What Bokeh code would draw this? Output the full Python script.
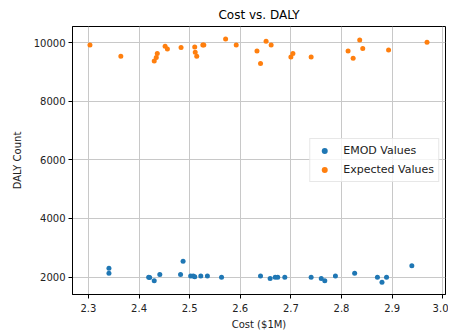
from bokeh.plotting import figure
from bokeh.models import Range1d, FixedTicker, Legend, LegendItem
from bokeh.embed import file_html
from bokeh.resources import INLINE

# Data
emod_cost = [2.3405, 2.3405, 2.419, 2.421, 2.430, 2.441, 2.482, 2.487, 2.502, 2.507,
             2.510, 2.522, 2.535, 2.563, 2.640, 2.659, 2.669, 2.674, 2.688, 2.740,
             2.760, 2.767, 2.788, 2.826, 2.871, 2.880, 2.889, 2.939]
emod_daly = [2300, 2130, 1993, 1985, 1870, 2085, 2085, 2540, 2040, 2040,
             2007, 2040, 2040, 1993, 2040, 1950, 1993, 1993, 1993, 1993,
             1950, 1870, 2040, 2130, 1993, 1822, 1993, 2382]

exp_cost = [2.303, 2.364, 2.430, 2.434, 2.436, 2.4515, 2.456, 2.483, 2.510, 2.511,
            2.514, 2.526, 2.528, 2.571, 2.592, 2.633, 2.640, 2.651, 2.661, 2.700,
            2.704, 2.740, 2.813, 2.823, 2.836, 2.842, 2.893, 2.969]
exp_daly = [9918, 9532, 9372, 9488, 9624, 9874, 9782, 9829, 9850, 9669,
            9532, 9918, 9918, 10123, 9918, 9713, 9283, 10044, 9918, 9508,
            9624, 9508, 9713, 9464, 10089, 9795, 9747, 10010]

x_ticks = [2.3, 2.4, 2.5, 2.6, 2.7, 2.8, 2.9, 3.0]
x_tick_labels = ["2.3", "2.4", "2.5", "2.6", "2.7", "2.8", "2.9", "3.0"]
y_ticks = [2000, 4000, 6000, 8000, 10000]
y_tick_labels = ["2000", "4000", "6000", "8000", "10000"]

FONT = "DejaVu Sans"

p = figure(width=448, height=332, output_backend="svg", toolbar_location=None,
           x_range=Range1d(2.2685, 3.0055), y_range=Range1d(1405, 10547),
           title="Cost vs. DALY",
           min_border_left=72, min_border_right=3, min_border_top=0, min_border_bottom=37)

p.title.align = "center"
p.title.text_font = FONT
p.title.text_font_size = "12px"
p.title.text_font_style = "normal"
p.title.text_color = "black"

p.outline_line_color = "black"
p.outline_line_width = 1
p.outline_line_alpha = 1

for ax in (p.xaxis[0], p.yaxis[0]):
    ax.major_tick_in = 0
    ax.major_tick_out = 4
    ax.minor_tick_in = 0
    ax.minor_tick_out = 0
    ax.major_label_text_font = FONT
    ax.major_label_text_font_size = "10px"
    ax.major_label_text_color = "#222222"
    ax.axis_label_text_font = FONT
    ax.axis_label_text_font_size = "10px"
    ax.axis_label_text_font_style = "normal"
    ax.axis_label_text_color = "#222222"
    ax.axis_line_color = "black"
    ax.major_tick_line_color = "black"

p.xaxis[0].ticker = FixedTicker(ticks=x_ticks)
p.xaxis[0].major_label_overrides = dict(zip(x_ticks, x_tick_labels))
p.yaxis[0].ticker = FixedTicker(ticks=y_ticks)
p.yaxis[0].major_label_overrides = dict(zip(y_ticks, y_tick_labels))
p.xaxis[0].axis_label = "Cost ($1M)"
p.yaxis[0].axis_label = "DALY Count"
p.xaxis[0].axis_label_standoff = 4
p.yaxis[0].axis_label_standoff = 8
p.xaxis[0].major_label_standoff = 5
p.yaxis[0].major_label_standoff = 3

p.xgrid.grid_line_color = "#c8c8c8"
p.ygrid.grid_line_color = "#c8c8c8"
p.xgrid.grid_line_width = 1
p.ygrid.grid_line_width = 1
p.xgrid.ticker = FixedTicker(ticks=x_ticks)
p.ygrid.ticker = FixedTicker(ticks=y_ticks)

r1 = p.scatter(emod_cost, emod_daly, size=5, color="#1f77b4", line_width=0)
r2 = p.scatter(exp_cost, exp_daly, size=5, color="#ff7f0e", line_width=0)

legend = Legend(items=[LegendItem(label="EMOD Values", renderers=[r1]),
                       LegendItem(label="Expected Values", renderers=[r2])],
                location="center_right")
legend.label_text_font = FONT
legend.label_text_font_size = "11px"
legend.label_text_color = "#222222"
legend.border_line_color = "#d0d0d0"
legend.border_line_width = 1
legend.background_fill_alpha = 0.8
legend.margin = 6
legend.padding = 4
legend.spacing = 4
legend.glyph_width = 20
legend.glyph_height = 15
legend.label_height = 15
legend.label_standoff = 9
p.add_layout(legend, "center")

open("out.html", "w").write(file_html(p, INLINE))
